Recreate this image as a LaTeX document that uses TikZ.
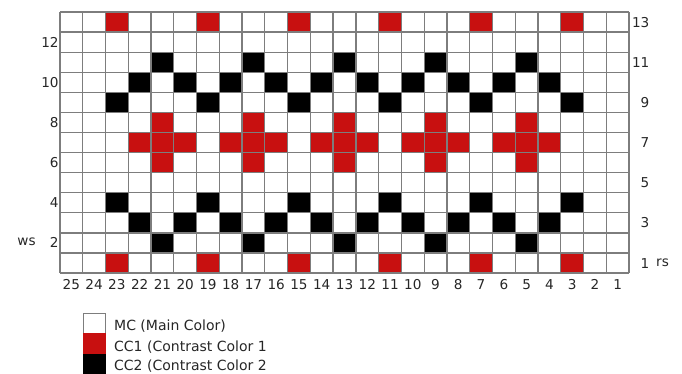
\documentclass[tikz,border=0pt]{standalone}
\usepackage{fontspec}
\setmainfont{DejaVu Sans}
\definecolor{ccred}{RGB}{200,16,16}
\definecolor{gridgray}{RGB}{125,125,125}
\begin{document}
\begin{tikzpicture}[x=1pt,y=-1pt,
  lbl/.style={font=\fontsize{13.6}{15}\selectfont,inner sep=0pt,text=black!85},
  gridln/.style={draw=gridgray,line width=1.3pt},
  legtxt/.style={font=\fontsize{14}{16}\selectfont,inner sep=0pt,anchor=base west,text=black!85}]
\useasboundingbox (0,0) rectangle (682,374);
\def\XO{60}\def\YO{12}\def\CW{22.76}\def\RH{20.08}
\newcommand{\knitcell}[3]{%
  \fill[#3] ({\XO+(25-#1)*\CW},{\YO+(13-#2)*\RH}) rectangle ++(\CW,\RH);}
% red cells
\foreach \c in {23,19,15,11,7,3} {\knitcell{\c}{13}{ccred}\knitcell{\c}{1}{ccred}}
\foreach \c in {21,17,13,9,5} {%
  \knitcell{\c}{8}{ccred}\knitcell{\c}{6}{ccred}%
  \knitcell{\c}{7}{ccred}\knitcell{\numexpr\c+1\relax}{7}{ccred}\knitcell{\numexpr\c-1\relax}{7}{ccred}}
% black cells
\foreach \c in {23,19,15,11,7,3} {\knitcell{\c}{9}{black}\knitcell{\c}{4}{black}}
\foreach \c in {21,17,13,9,5} {\knitcell{\c}{11}{black}\knitcell{\c}{2}{black}}
\foreach \c in {22,20,18,16,14,12,10,8,6,4} {\knitcell{\c}{10}{black}\knitcell{\c}{3}{black}}
% grid lines
\foreach \i in {0,...,25} {\draw[gridln] ({\XO+\i*\CW},\YO) -- ({\XO+\i*\CW},{\YO+13*\RH});}
\foreach \j in {0,...,13} {\draw[gridln] (\XO,{\YO+\j*\RH}) -- ({\XO+25*\CW},{\YO+\j*\RH});}
% column labels
\foreach \c in {25,...,1} {\node[lbl,anchor=base] (col\c) at ({\XO+(25-\c+0.5)*\CW},289) {\c};}
% row labels
\foreach \r in {12,10,8,6,4,2} {\node[lbl,anchor=base east] (row\r) at (58.8,{\YO+(13-\r+0.5)*\RH+5}) {\r};}
\foreach \r in {13,11,9,7,5,3,1} {\node[lbl,anchor=base east] (row\r) at (649.5,{\YO+(13-\r+0.5)*\RH+5}) {\r};}
\node[lbl,anchor=base] (ws) at (26.5,{\YO+11.5*\RH+3}) {ws};
\node[lbl,anchor=base] (rs) at (662.5,{\YO+12.5*\RH+3}) {rs};
% legend
\fill[white] (83,313) rectangle (106,333);
\draw[gridgray,line width=1.3pt] (83.6,333) -- (83.6,313.6) -- (105.4,313.6) -- (105.4,333);
\fill[ccred] (83,333) rectangle (106,353.5);
\fill[black] (83,353.5) rectangle (106,374);
\node[legtxt] (mc) at (114,330) {MC (Main Color)};
\node[legtxt] (cc1) at (114,351) {CC1 (Contrast Color 1};
\node[legtxt] (cc2) at (114,370) {CC2 (Contrast Color 2};
\end{tikzpicture}
\end{document}
